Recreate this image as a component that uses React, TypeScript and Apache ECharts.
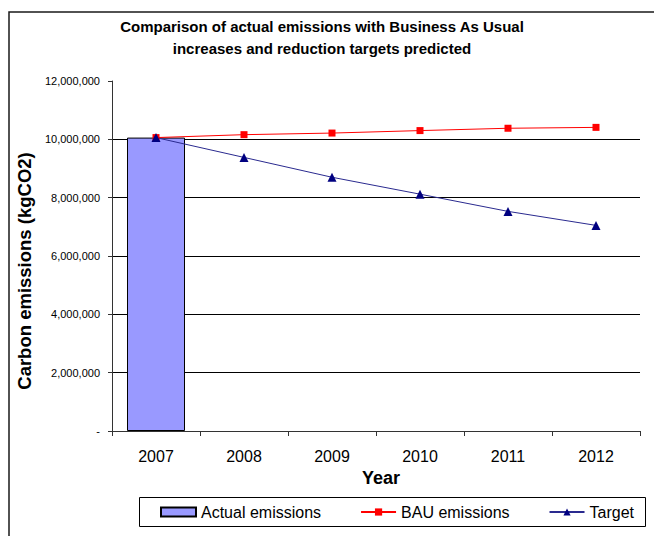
import React, { useEffect, useRef } from "react";
import * as echarts from "echarts";

// Years on the category axis
const years = ["2007", "2008", "2009", "2010", "2011", "2012"];

// Carbon emissions, kgCO2
const actualEmissions = [10060000, null, null, null, null, null];
const bauEmissions = [10060000, 10160000, 10215000, 10300000, 10380000, 10410000];
const targetEmissions = [10060000, 9380000, 8700000, 8120000, 7530000, 7050000];

const titleLines = [
  "Comparison of actual emissions with Business As Usual",
  "increases and reduction targets predicted",
];
const yAxisTitle = "Carbon emissions (kgCO2)";
const xAxisTitle = "Year";
const seriesNames = ["Actual emissions", "BAU emissions", "Target"];

const FONT = "Liberation Sans, Arial, Helvetica, sans-serif";

const formatKg = (v: number) =>
  v === 0 ? "-" : v.toLocaleString("en-US");

export default function App() {
  const ref = useRef<HTMLDivElement>(null);

  useEffect(() => {
    if (!ref.current) return;
    const chart = echarts.init(ref.current, undefined, { renderer: "svg" });

    chart.setOption({
      animation: false,
      backgroundColor: "#ffffff",
      textStyle: { fontFamily: FONT, color: "#000" },
      grid: { left: 112, right: 14, top: 81, bottom: 105, containLabel: false },
      graphic: [
        // outer chart frame (open to the right and bottom)
        {
          type: "rect",
          shape: { x: 9, y: 12, width: 720, height: 600 },
          style: { fill: "none", stroke: "#1a1a1a", lineWidth: 1.5 },
          silent: true,
        },
        {
          type: "text",
          x: 322,
          y: 15,
          style: {
            text: titleLines.join("\n"),
            align: "center",
            verticalAlign: "top",
            lineHeight: 22,
            fontFamily: FONT,
            fontWeight: "bold",
            fontSize: 15,
            fill: "#000",
          },
        },
        // legend frame
        {
          type: "rect",
          shape: { x: 139.5, y: 497.5, width: 506, height: 29 },
          style: { fill: "#fff", stroke: "#000", lineWidth: 1 },
          z: -1,
          silent: true,
        },
      ],
      legend: {
        left: 160,
        top: 504,
        padding: 0,
        itemGap: 39,
        itemWidth: 35,
        itemHeight: 9,
        textStyle: { fontFamily: FONT, fontSize: 16, color: "#000", padding: [0, 0, 0, 0] },
        data: [
          { name: seriesNames[0], icon: "rect" },
          { name: seriesNames[1] },
          { name: seriesNames[2] },
        ],
      },
      xAxis: {
        type: "category",
        data: years,
        boundaryGap: true,
        name: xAxisTitle,
        nameLocation: "middle",
        nameGap: 33,
        nameTextStyle: {
          fontFamily: FONT,
          fontWeight: "bold",
          fontSize: 18,
          color: "#000",
          padding: [0, 0, 0, 10],
          verticalAlign: "top",
        },
        axisLine: { show: true, lineStyle: { color: "#333", width: 1 } },
        axisTick: { show: true, alignWithLabel: false, length: 5, lineStyle: { color: "#333" } },
        axisLabel: { fontFamily: FONT, fontSize: 16, color: "#000", margin: 17 },
        splitLine: { show: false },
      },
      yAxis: {
        type: "value",
        min: 0,
        max: 12000000,
        interval: 2000000,
        name: yAxisTitle,
        nameLocation: "middle",
        nameGap: 70,
        nameTextStyle: {
          fontFamily: FONT,
          fontWeight: "bold",
          fontSize: 18.5,
          color: "#000",
          padding: [0, 30, 0, 0],
        },
        axisLine: { show: true, lineStyle: { color: "#333", width: 1 } },
        axisTick: { show: true, length: 4, lineStyle: { color: "#333" } },
        axisLabel: {
          fontFamily: FONT,
          fontSize: 11,
          color: "#000",
          margin: 12,
          formatter: (v: number) => formatKg(v),
        },
        splitLine: {
          show: true,
          showMinLine: false,
          showMaxLine: false,
          lineStyle: { color: "#000", width: 1 },
        },
      },
      series: [
        {
          name: seriesNames[0],
          type: "bar",
          data: actualEmissions,
          barWidth: 58,
          itemStyle: { color: "#9999FF", borderColor: "#000", borderWidth: 1 },
        },
        {
          name: seriesNames[1],
          type: "line",
          data: bauEmissions,
          symbol: "rect",
          symbolSize: 7,
          color: "#FF0000",
          lineStyle: { color: "#FF0000", width: 1 },
          itemStyle: { color: "#FF0000" },
        },
        {
          name: seriesNames[2],
          type: "line",
          data: targetEmissions,
          symbol: "triangle",
          symbolSize: 9,
          color: "#000080",
          lineStyle: { color: "#2a2a8f", width: 1 },
          itemStyle: { color: "#000080" },
        },
      ],
    });

    return () => chart.dispose();
  }, []);

  return (
    <div
      ref={ref}
      style={{ position: "fixed", left: 0, top: 0, width: 654, height: 536, background: "#fff" }}
    />
  );
}
